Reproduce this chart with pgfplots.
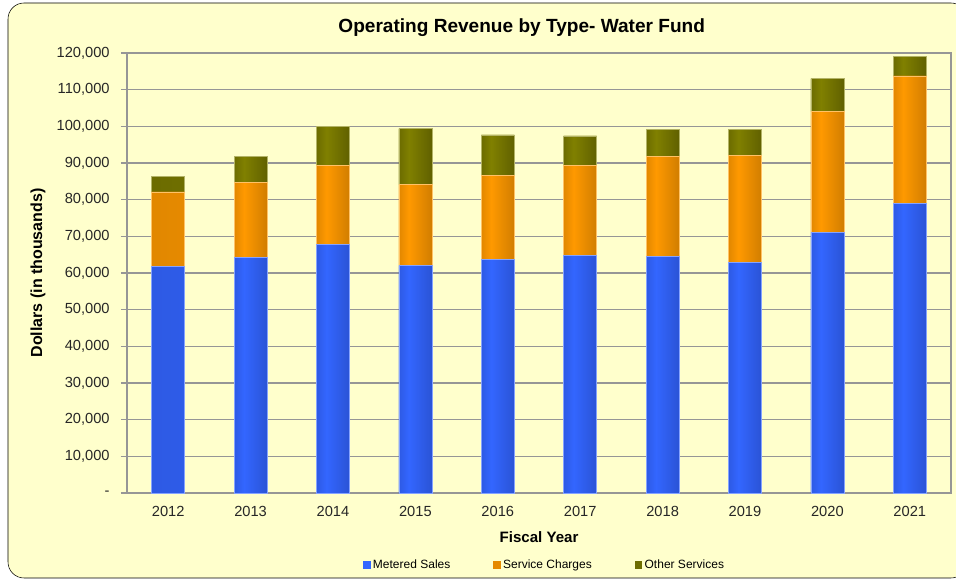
\documentclass[border=0pt]{standalone}
\usepackage{pgfplots}
\pgfplotsset{compat=1.18}
\usepackage{fontspec}
\setmainfont{Liberation Sans}
\definecolor{bg}{HTML}{FFFFCC}
\definecolor{blueL}{HTML}{3366FF}
\definecolor{blueD}{HTML}{2446B8}
\definecolor{orgL}{HTML}{FF9900}
\definecolor{orgD}{HTML}{B06A00}
\definecolor{oliL}{HTML}{808000}
\definecolor{oliD}{HTML}{4A4A00}
\definecolor{gridc}{HTML}{969696}
\pgfdeclarehorizontalshading{shBlue}{100bp}{color(0bp)=(blueD); color(40bp)=(blueL); color(100bp)=(blueD)}
\pgfdeclarehorizontalshading{shOrg}{100bp}{color(0bp)=(orgD); color(40bp)=(orgL); color(100bp)=(orgD)}
\pgfdeclarehorizontalshading{shOli}{100bp}{color(0bp)=(oliD); color(40bp)=(oliL); color(100bp)=(oliD)}
% each bar gets its own left-right gradient, clipped to the bar path
\tikzset{barshade/.style n args={2}{fill=#2,
  path picture={\foreach \i in {0,...,9} {
    \pgfpathrectanglecorners
      {\pgfpointadd{\pgfplotspointaxisxy{\i}{0}}{\pgfpoint{-12.4pt}{0pt}}}
      {\pgfpointadd{\pgfplotspointaxisxy{\i}{120000}}{\pgfpoint{12.4pt}{0pt}}}
    \pgfshadepath{#1}{0}
    \pgfusepath{discard}}}}}
\begin{document}
\begin{tikzpicture}
\useasboundingbox (-95.25pt,-66pt) rectangle (621.75pt,369.75pt);
\draw[black, fill=bg, rounded corners=12pt] (-89.25pt,-63.75pt) rectangle (630pt,367.5pt);
\begin{axis}[
  at={(0pt,0pt)}, anchor=south west,
  scale only axis, width=618pt, height=330pt,
  ybar stacked, bar width=24.75pt,
  xmin=-0.5, xmax=9.5, ymin=0, ymax=120000,
  xtick={0,...,9},
  xticklabels={2012,2013,2014,2015,2016,2017,2018,2019,2020,2021},
  major x tick style={draw=none},
  x tick label style={yshift=-2pt},
  extra x ticks={-0.5,0.5,...,9.5}, extra x tick labels={},
  extra x tick style={grid=none, major tick length=4.5pt, tick style={draw=gridc, thick}},
  ytick={0,10000,...,120000},
  yticklabels={{-},{10,000},{20,000},{30,000},{40,000},{50,000},{60,000},{70,000},{80,000},{90,000},{100,000},{110,000},{120,000}},
  y tick label style={xshift=-5pt},
  scaled y ticks=false,
  tick align=outside, tick pos=left, major tick length=4.5pt,
  y tick style={draw=gridc, thick},
  ymajorgrids, grid style={draw=gridc, thick},
  axis line style={draw=gridc, thick},
  axis background/.style={fill=bg},
  tick label style={font=\fontsize{11}{13}\selectfont, text=black!85},
  title={Operating Revenue by Type- Water Fund},
  title style={font=\bfseries\fontsize{14.3}{16}\selectfont, at={(0.479,1.04)}, anchor=center},
  xlabel={Fiscal Year},
  xlabel style={font=\bfseries\fontsize{11.3}{13}\selectfont, at={(0.5,-0.1)}, anchor=center},
  ylabel={Dollars (in thousands)},
  ylabel style={font=\bfseries\fontsize{12}{14}\selectfont, at={(-0.108,0.5)}, anchor=center},
  legend style={at={(0.507,-0.164)}, anchor=center, draw=none, fill=none,
    legend columns=3, font=\fontsize{9}{11}\selectfont,
    /tikz/every even column/.append style={column sep=30pt}},
]
\addplot[draw=blueL!60!white, barshade={shBlue}{blueL},
  legend image code/.code={\fill[blueL] (0pt,-2.6pt) rectangle (5.2pt,2.6pt);}]
  coordinates {(0,61700) (1,64260) (2,67800) (3,62000) (4,63640) (5,64810) (6,64540) (7,62820) (8,71080) (9,78900)};
\addplot[draw=orgL!60!white, barshade={shOrg}{orgL},
  legend image code/.code={\fill[orgL!90!black] (0pt,-2.6pt) rectangle (5.2pt,2.6pt);}]
  coordinates {(0,20400) (1,20370) (2,21550) (3,22090) (4,22980) (5,24540) (6,27360) (7,29360) (8,32910) (9,34830)};
\addplot[draw=oliL!60!white, barshade={shOli}{oliL},
  legend image code/.code={\fill[oliL!85!black] (0pt,-2.6pt) rectangle (5.2pt,2.6pt);}]
  coordinates {(0,4250) (1,7270) (2,10650) (3,15270) (4,11020) (5,8020) (6,7270) (7,6990) (8,9000) (9,5260)};
\legend{Metered Sales,Service Charges,Other Services}
\end{axis}
\end{tikzpicture}
\end{document}
